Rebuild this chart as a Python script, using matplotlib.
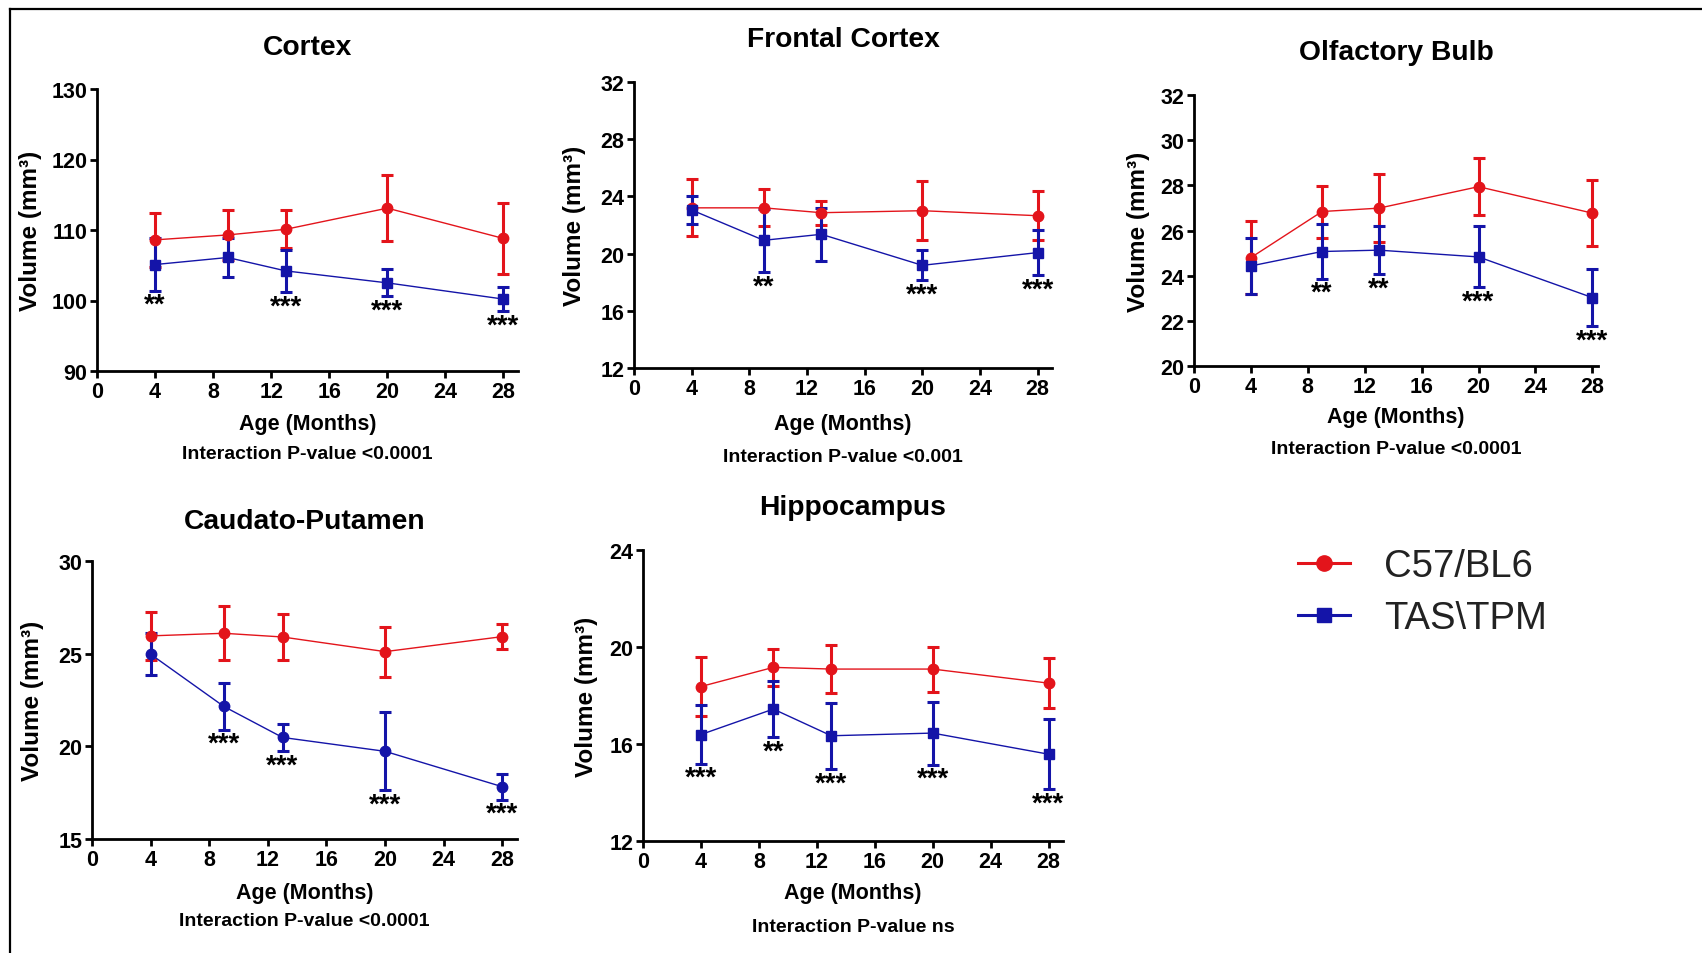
import numpy as np
import matplotlib
matplotlib.use('Agg')
from matplotlib import pyplot as plt
from matplotlib.lines import Line2D

# ages sampled (months)
ages = [4, 9, 13, 20, 28]

# Cortex
cortex_c57 = [108.6, 109.3, 110.1, 113.1, 108.8]
cortex_c57_sd = [3.8, 3.5, 2.7, 4.7, 5.0]
cortex_tas = [105.1, 106.1, 104.2, 102.5, 100.2]
cortex_tas_sd = [3.7, 2.7, 3.0, 1.9, 1.7]
cortex_stars = ['**', '', '***', '***', '***']

# Frontal Cortex
frontal_c57 = [23.2, 23.2, 22.86, 23.0, 22.65]
frontal_c57_sd = [2.0, 1.3, 0.85, 2.05, 1.7]
frontal_tas = [23.05, 20.93, 21.35, 19.18, 20.07]
frontal_tas_sd = [0.95, 2.2, 1.85, 1.05, 1.55]
frontal_stars = ['', '**', '', '***', '***']

# Olfactory Bulb
olf_c57 = [24.8, 26.84, 26.99, 27.94, 26.77]
olf_c57_sd = [1.6, 1.15, 1.5, 1.27, 1.47]
olf_tas = [24.43, 25.07, 25.13, 24.83, 23.03]
olf_tas_sd = [1.22, 1.2, 1.05, 1.35, 1.28]
olf_stars = ['', '**', '**', '***', '***']

# Caudato-Putamen
cp_c57 = [25.96, 26.1, 25.9, 25.11, 25.92]
cp_c57_sd = [1.3, 1.46, 1.24, 1.35, 0.68]
cp_tas = [24.97, 22.15, 20.48, 19.73, 17.82]
cp_tas_sd = [1.13, 1.25, 0.75, 2.1, 0.7]
cp_stars = ['', '***', '***', '***', '***']

# Hippocampus
hip_c57 = [18.37, 19.16, 19.09, 19.09, 18.51]
hip_c57_sd = [1.2, 0.75, 1.0, 0.93, 1.03]
hip_tas = [16.39, 17.44, 16.34, 16.45, 15.58]
hip_tas_sd = [1.2, 1.15, 1.37, 1.3, 1.45]
hip_stars = ['***', '**', '***', '***', '***']

group_names = ['C57/BL6', 'TAS\\TPM']
xticks = [0, 4, 8, 12, 16, 20, 24, 28]

RED = '#E3141B'
BLUE = '#1414A8'
W, H = 1702, 954

plt.rcParams['font.family'] = ['Liberation Sans', 'DejaVu Sans']

fig = plt.figure(figsize=(W / 100, H / 100), dpi=100, facecolor='w')


def box(l, t, r, b):
    return [l / W, 1 - b / H, (r - l) / W, (b - t) / H]


def panel(rect, title, c57, c57_sd, tas, tas_sd, stars, ylim, ystep, xmax,
          note, ylab_x, xlab_y, note_y, title_y, tas_marker='s'):
    l, t, r, b = rect
    ax = fig.add_axes(box(l, t, r, b))
    ax.errorbar(ages, c57, yerr=c57_sd, color=RED, marker='o', ms=7.5,
                lw=1, elinewidth=2.2, capsize=4.5, capthick=2.2)
    ax.errorbar(ages, tas, yerr=tas_sd, color=BLUE, marker=tas_marker, ms=7.5,
                lw=1, elinewidth=2.2, capsize=4.5, capthick=2.2)
    for x, y, e, s in zip(ages, tas, tas_sd, stars):
        if s:
            ax.annotate(s, (x, y - e), xytext=(0, -1), textcoords='offset points',
                        ha='center', va='top', fontsize=20, fontweight='bold')
    ax.set_xlim(0, xmax)
    ax.set_ylim(*ylim)
    ax.set_xticks(xticks)
    ax.set_yticks(np.arange(ylim[0], ylim[1] + 0.01, ystep))
    for s in ['top', 'right']:
        ax.spines[s].set_visible(False)
    for s in ['left', 'bottom']:
        ax.spines[s].set_linewidth(2)
    ax.tick_params(width=2, length=5, labelsize=15.5, pad=2)
    for lab in ax.get_xticklabels() + ax.get_yticklabels():
        lab.set_fontweight('bold')
    ax.set_ylabel('Volume (mm³)', fontsize=17.5, fontweight='bold')
    ax.yaxis.set_label_coords((ylab_x - l) / (r - l), 0.5)
    ax.yaxis.label.set_verticalalignment('center')
    cx = (l + r) / 2 / W
    fig.text(cx, 1 - xlab_y / H, 'Age (Months)', ha='center', va='center',
             fontsize=15.5, fontweight='bold')
    fig.text(cx, 1 - note_y / H, note, ha='center', va='center',
             fontsize=14, fontweight='bold')
    fig.text(cx, 1 - title_y / H, title, ha='center', va='center',
             fontsize=20.3, fontweight='bold')
    return ax


panel((97, 90, 518, 372), 'Cortex', cortex_c57, cortex_c57_sd, cortex_tas,
      cortex_tas_sd, cortex_stars, (90, 130), 10, 29,
      'Interaction P-value <0.0001', 31, 425, 455, 48)
panel((634, 83, 1052, 369), 'Frontal Cortex', frontal_c57, frontal_c57_sd,
      frontal_tas, frontal_tas_sd, frontal_stars, (12, 32), 4, 29,
      'Interaction P-value <0.001', 575, 425, 457, 40)
panel((1194, 96, 1598, 367), 'Olfactory Bulb', olf_c57, olf_c57_sd, olf_tas,
      olf_tas_sd, olf_stars, (20, 32), 2, 28.4,
      'Interaction P-value <0.0001', 1138, 418, 450, 53)
panel((92, 562, 517, 840), 'Caudato-Putamen', cp_c57, cp_c57_sd, cp_tas,
      cp_tas_sd, cp_stars, (15, 30), 5, 29,
      'Interaction P-value <0.0001', 33, 893, 922, 522, tas_marker='o')
panel((643, 551, 1063, 842), 'Hippocampus', hip_c57, hip_c57_sd, hip_tas,
      hip_tas_sd, hip_stars, (12, 24), 4, 29,
      'Interaction P-value ns', 586, 893, 928, 508)

# legend
handles = [Line2D([], [], color=RED, marker='o', ms=11, lw=2.2),
           Line2D([], [], color=BLUE, marker='s', ms=10, lw=2.2)]
fig.legend(handles, group_names, loc='center left', frameon=False,
           bbox_to_anchor=(1298 / W, 1 - 593 / H), fontsize=27.5,
           handlelength=1.35, handletextpad=0.9, labelspacing=0.42,
           borderpad=0, borderaxespad=0, labelcolor='#222222')

# outer frame (left and top edges)
fig.add_artist(Line2D([10 / W, 10 / W], [0, 1 - 10 / H], color='k', lw=1.6,
                      transform=fig.transFigure))
fig.add_artist(Line2D([10 / W, 1], [1 - 10 / H, 1 - 10 / H], color='k', lw=1.6,
                      transform=fig.transFigure))

fig.savefig('out.png', dpi=100)
